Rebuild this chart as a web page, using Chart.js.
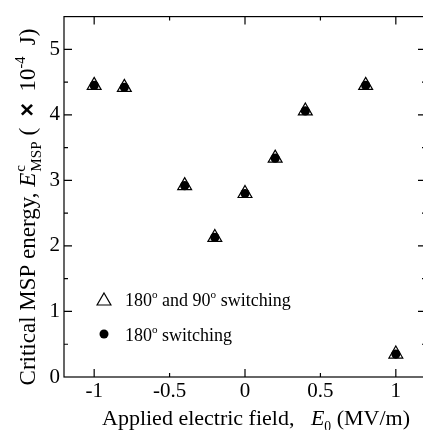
<!DOCTYPE html>
<html><head><meta charset="utf-8">
<script src="https://cdn.jsdelivr.net/npm/chart.js@4"></script>
<style>html,body{margin:0;padding:0;background:#fff;overflow:hidden}#wrap{width:440px;height:430px}</style>
</head><body><div id="wrap"><canvas id="c" width="440" height="430"></canvas></div>
<script>
// ---- data ----
const fieldValues = [-1, -0.8, -0.4, -0.2, 0, 0.2, 0.4, 0.8, 1];
const energy180and90 = [4.45, 4.42, 2.92, 2.13, 2.80, 3.34, 4.06, 4.45, 0.35];
const energy180 = [4.45, 4.42, 2.92, 2.13, 2.80, 3.34, 4.06, 4.45, 0.35];
const xTickLabels = [-1, -0.5, 0, 0.5, 1];
const yTickLabels = [0, 1, 2, 3, 4, 5];
const xMajorTicks = [-1, 0, 1];
const xMinorTicks = [-0.5, 0.5];
const yMajorTicks = [1, 2, 3, 4, 5];
const yMinorTicks = [0.5, 1.5, 2.5, 3.5, 4.5];

const FONT = "'Liberation Serif', 'Times New Roman', serif";
const TICK_FS = 21;
const YTITLE_FS = 23;
const XTITLE_FS = 22;
const LEGEND_FS = 18;

function toPoints(xs, ys){ return xs.map((x,i)=>({x:x, y:ys[i]})); }

function fontStr(size, italic, bold, fam){
  return (italic?'italic ':'') + (bold?'bold ':'') + size + 'px ' + (fam||FONT);
}
function richWidth(ctx, segs, size){
  let w = 0;
  segs.forEach(s=>{
    if (s.supsub){
      ctx.font = fontStr(size*0.66, false, false);
      const a = ctx.measureText(s.supsub[0]).width, b = ctx.measureText(s.supsub[1]).width;
      w += Math.max(a,b) + 1;
    } else {
      const sz = (s.sup||s.sub) ? size*0.62 : size;
      ctx.font = fontStr(sz, s.i, s.b, s.fam);
      w += ctx.measureText(s.t).width;
    }
  });
  return w;
}
function drawRich(ctx, segs, x, y, size){
  ctx.textAlign = 'left'; ctx.textBaseline = 'alphabetic'; ctx.fillStyle = '#000';
  segs.forEach(s=>{
    if (s.supsub){
      ctx.font = fontStr(size*0.66, false, false);
      const a = ctx.measureText(s.supsub[0]).width, b = ctx.measureText(s.supsub[1]).width;
      ctx.fillText(s.supsub[0], x+1, y - size*0.45);
      ctx.fillText(s.supsub[1], x+1, y + size*0.25);
      x += Math.max(a,b) + 1;
    } else {
      const sz = (s.sup||s.sub) ? size*0.62 : size;
      ctx.font = fontStr(sz, s.i, s.b, s.fam);
      const dy = s.sup ? -size*0.42 : (s.sub ? size*0.28 : 0);
      ctx.fillText(s.t, x, y + dy);
      x += ctx.measureText(s.t).width;
    }
  });
  return x;
}

const yTitleSegs = [
  {t:'Critical MSP energy, '},
  {t:'E', i:true},
  {supsub:['c','MSP']},
  {t:' (  '},
  {t:'\u00d7', b:true, fam:"'Liberation Sans', Arial, sans-serif"},
  {t:'  10'},
  {t:'-4', sup:true},
  {t:'  J)'}
];
const xTitleSegs = [
  {t:'Applied electric field,   '},
  {t:'E', i:true},
  {t:'0', sub:true},
  {t:' (MV/m)'}
];
const legend1Segs = [{t:'180'},{t:'o',sup:true},{t:' and 90'},{t:'o',sup:true},{t:' switching'}];
const legend2Segs = [{t:'180'},{t:'o',sup:true},{t:' switching'}];

const framePlugin = {
  id: 'frame',
  afterDraw(chart){
    const ctx = chart.ctx, a = chart.chartArea;
    const xs = chart.scales.x, ys = chart.scales.y;
    ctx.save();
    ctx.strokeStyle = '#000'; ctx.lineWidth = 1.2;
    ctx.strokeRect(a.left, a.top, a.right - a.left, a.bottom - a.top);
    ctx.beginPath();
    const tick = (v, len) => {
      const px = xs.getPixelForValue(v);
      ctx.moveTo(px, a.bottom); ctx.lineTo(px, a.bottom - len);
      ctx.moveTo(px, a.top); ctx.lineTo(px, a.top + len);
    };
    xMajorTicks.forEach(v=>tick(v, 8));
    xMinorTicks.forEach(v=>tick(v, 4));
    const ytick = (v, len) => {
      const py = ys.getPixelForValue(v);
      ctx.moveTo(a.left, py); ctx.lineTo(a.left + len, py);
      ctx.moveTo(a.right, py); ctx.lineTo(a.right - len, py);
    };
    yMajorTicks.forEach(v=>ytick(v, 8));
    yMinorTicks.forEach(v=>ytick(v, 4));
    ctx.stroke();

    // y title
    ctx.save();
    const wy = richWidth(ctx, yTitleSegs, YTITLE_FS);
    ctx.translate(35, 207);
    ctx.rotate(-Math.PI/2);
    drawRich(ctx, yTitleSegs, -wy/2, 0, YTITLE_FS);
    ctx.restore();
    // x title
    drawRich(ctx, xTitleSegs, 102, 425, XTITLE_FS);

    // legend
    const lx = 104, ly1 = 301, ly2 = 334, r = 8;
    ctx.beginPath();
    ctx.moveTo(lx, ly1 - r);
    ctx.lineTo(lx + r*Math.sin(2*Math.PI/3), ly1 - r*Math.cos(2*Math.PI/3));
    ctx.lineTo(lx + r*Math.sin(4*Math.PI/3), ly1 - r*Math.cos(4*Math.PI/3));
    ctx.closePath();
    ctx.fillStyle = '#fff'; ctx.fill();
    ctx.lineWidth = 1.2; ctx.strokeStyle = '#000'; ctx.stroke();
    ctx.beginPath(); ctx.arc(lx, ly2, 4.5, 0, Math.PI*2); ctx.fillStyle = '#000'; ctx.fill();
    drawRich(ctx, legend1Segs, 125, 306, LEGEND_FS);
    drawRich(ctx, legend2Segs, 125, 341, LEGEND_FS);
    ctx.restore();
  }
};

new Chart(document.getElementById('c'), {
  type: 'scatter',
  data: {
    datasets: [
      { label: '180° switching', data: toPoints(fieldValues, energy180),
        pointStyle: 'circle', pointRadius: 4.6, pointHoverRadius: 4.6,
        backgroundColor: '#000', borderColor: '#000', borderWidth: 0 },
      { label: '180° and 90° switching', data: toPoints(fieldValues, energy180and90),
        pointStyle: 'triangle', pointRadius: 8, pointHoverRadius: 8,
        backgroundColor: '#fff', borderColor: '#000', borderWidth: 1.2 }
    ]
  },
  options: {
    responsive: false, animation: false, devicePixelRatio: 1,
    layout: { padding: { top: 15, right: 14, left: 0, bottom: 0 } },
    plugins: { legend: { display: false }, tooltip: { enabled: false }, title: { display: false } },
    scales: {
      x: {
        type: 'linear', min: -1.2, max: 1.2,
        grid: { display: false, drawTicks: false }, border: { display: false },
        afterBuildTicks: s => { s.ticks = xTickLabels.map(v=>({value:v})); },
        afterFit: s => { s.height = 53; },
        ticks: { color: '#000', font: { family: FONT, size: TICK_FS }, padding: 2, maxRotation: 0,
                 callback: v => String(v) }
      },
      y: {
        type: 'linear', min: 0, max: 5.5,
        grid: { display: false, drawTicks: false }, border: { display: false },
        afterBuildTicks: s => { s.ticks = yTickLabels.map(v=>({value:v})); },
        afterFit: s => { s.width = 64; },
        ticks: { color: '#000', font: { family: FONT, size: TICK_FS }, padding: 4,
                 callback: v => String(v) }
      }
    }
  },
  plugins: [framePlugin]
});
</script>
</body></html>
